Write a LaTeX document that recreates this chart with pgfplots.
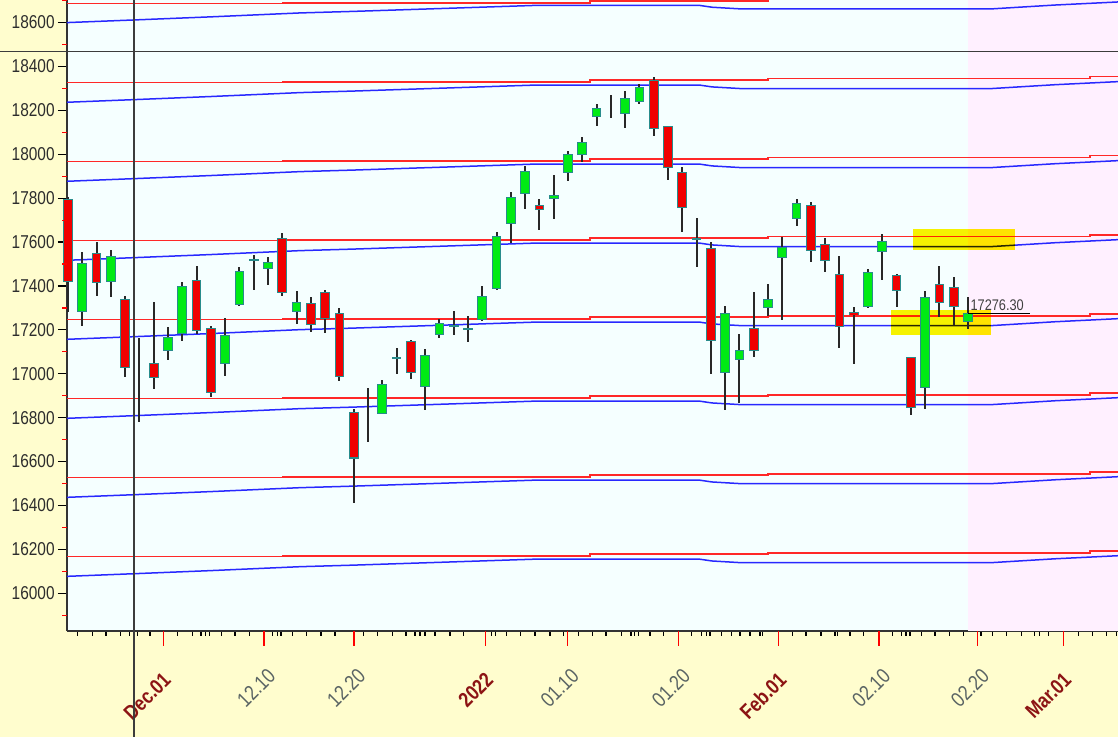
\documentclass[border=0pt]{standalone}
\usepackage{fontspec}
\setmainfont{Liberation Sans}
\newfontfamily\tickfont[FakeStretch=0.83]{Liberation Sans}
\usepackage{pgfplots}
\usepackage{pgfplotstable}
\pgfplotsset{compat=1.18}
\definecolor{outerbg}{RGB}{255,253,206}
\definecolor{plotbg}{RGB}{245,255,255}
\definecolor{pinkbg}{RGB}{255,240,255}
\definecolor{lred}{RGB}{255,40,40}
\definecolor{lblue}{RGB}{40,40,255}
\definecolor{cgreen}{RGB}{0,235,20}
\definecolor{cred}{RGB}{240,0,0}
\definecolor{cedge}{RGB}{40,140,140}
\definecolor{wick}{RGB}{40,40,40}
\definecolor{ylab}{RGB}{45,45,45}
\definecolor{xgray}{RGB}{90,100,100}
\definecolor{xred}{RGB}{140,20,20}
\definecolor{cross}{RGB}{60,60,60}

% candles (index 0 = first candle), open high low close
\pgfplotstableread{
x o h l c
1 17282 17554 17216 17503
3 17417 17564 17352 17536
7 17104 17213 17064 17167
8 17183 17420 17149 17402
11 17044 17252 16988 17177
12 17315 17485 17309 17470
14 17476 17534 17405 17511
16 17283 17376 17226 17325
22 16819 16971 16819 16955
23 17067 17119 16999 17073
25 16938 17112 16833 17086
26 17178 17250 17161 17233
28 17201 17264 17146 17204
29 17245 17401 17239 17354
30 17387 17647 17383 17626
31 17681 17828 17594 17805
32 17820 17945 17749 17925
34 17798 17905 17705 17813
35 17913 18017 17879 18003
36 17998 18081 17964 18056
37 18170 18228 18129 18212
38 18257 18272 18164 18258
39 18185 18287 18120 18256
40 18236 18322 18229 18308
44 17614 17708 17486 17617
46 17002 17309 16837 17278
47 17062 17183 16867 17110
49 17301 17410 17264 17340
50 17529 17622 17245 17577
51 17706 17795 17675 17780
56 17303 17477 17302 17464
57 17554 17639 17427 17606
60 16933 17375 16839 17352
63 17236 17351 17206 17276
}\upc
\pgfplotstableread{
x o h l c
0 17796 17805 17280 17417
2 17550 17601 17354 17415
4 17339 17355 16986 17026
5 17056 17161 16782 17054
6 17051 17325 16931 16983
9 17425 17490 17181 17197
10 17209 17217 16892 16912
13 17524 17543 17380 17517
15 17619 17640 17356 17368
17 17324 17352 17192 17221
18 17373 17380 17185 17248
19 17276 17298 16966 16985
20 16824 16840 16410 16614
21 16773 16936 16688 16771
24 17150 17156 16974 17004
27 17220 17286 17177 17214
33 17769 17798 17656 17746
41 18337 18351 18085 18113
42 18129 18130 17885 17938
43 17921 17944 17648 17757
45 17575 17599 16998 17149
48 17208 17374 17077 17102
52 17768 17781 17511 17560
53 17590 17618 17463 17516
54 17456 17537 17119 17214
55 17280 17306 17044 17267
58 17451 17455 17303 17375
59 17076 17077 16810 16843
61 17408 17491 17258 17322
62 17397 17443 17221 17305
}\downc
\pgfplotstableread{
x r1 r2 r3 r4 r5 r6 r7 r8
-0.07 18687 18327 17967 17607 17247 16887 16527 16167
15.05 18691 18331 17971 17611 17251 16891 16531 16171
36.54 18700 18340 17980 17620 17260 16900 16540 16180
49.0 18705 18345 17985 17625 17265 16905 16545 16185
71.54 18714 18354 17994 17634 17274 16914 16554 16194
73.5 18714 18354 17994 17634 17274 16914 16554 16194
}\redlines
\pgfplotstableread{
x b1 b2 b3 b4 b5 b6 b7 b8
-0.07 18600 18237 17877 17517 17157 16797 16437 16077
4.62 18612 18249 17889 17529 17169 16809 16449 16089
9.94 18626 18263 17903 17543 17183 16823 16463 16103
16.24 18644 18281 17921 17561 17201 16841 16481 16121
19.95 18651 18288 17928 17568 17208 16848 16488 16128
26.53 18665 18302 17942 17582 17222 16862 16502 16142
32.55 18678 18315 17955 17595 17235 16875 16515 16155
44.24 18678 18315 17955 17595 17235 16875 16515 16155
45.08 18670 18307 17947 17587 17227 16867 16507 16147
47.18 18662 18299 17939 17579 17219 16859 16499 16139
64.54 18662 18299 17939 17579 17219 16859 16499 16139
69.09 18680 18317 17957 17597 17237 16877 16517 16157
73.5 18694 18331 17971 17611 17251 16891 16531 16171
}\bluelines

\pgfplotsset{candle/.style={draw=none, mark=none, forget plot,
  error bars/.cd, y dir=both, y explicit, error mark=none}}

\begin{document}
\begin{tikzpicture}
\fill[outerbg] (-33.5pt,-53pt) rectangle (525.5pt,315.5pt);
\useasboundingbox (-33.5pt,-53pt) rectangle (525.5pt,315.5pt);
\begin{axis}[
  at={(0,0)}, anchor=south west,
  scale only axis, width=525.5pt, height=315.5pt,
  xmin=-0.07, xmax=73.5, ymin=15828, ymax=18703,
  axis x line*=bottom, axis y line*=left,
  axis line style={draw=black!80, line width=1pt},
  axis background/.style={fill=plotbg},
  clip=false,
  tick align=outside,
  major tick length=4.5pt, minor tick length=2.5pt,
  tick style={black, line width=0.6pt},
  ytick={16000,16200,16400,16600,16800,17000,17200,17400,17600,17800,18000,18200,18400,18600},
  yticklabels={16000,16200,16400,16600,16800,17000,17200,17400,17600,17800,18000,18200,18400,18600},
  yticklabel style={font=\tickfont\fontsize{9.3}{11}\selectfont, color=ylab, inner sep=0pt, xshift=-1.5pt},
  xtick={6.66,13.72,20.02,29.24,34.95,42.75,49.75,56.77,63.68,69.70},
  xticklabels={{\color{xred}\bfseries Dec.01\kern2.8pt},12.10,12.20,{\color{xred}\bfseries 2022\kern2.8pt},01.10,01.20,{\color{xred}\bfseries Feb.01\kern2.8pt},02.10,02.20,{\color{xred}\bfseries Mar.01\kern2.8pt}},
  minor xtick={0.68,1.73,2.66,3.69,4.29,4.88,5.74,7.68,8.73,9.31,9.64,9.89,10.76,11.69,12.69,14.33,14.68,14.91,15.73,16.71,17.71,18.69,20.67,21.68,22.70,23.66,24.29,24.64,24.99,25.69,26.74,27.67,29.66,29.94,30.71,31.69,32.69,33.74,34.67,35.72,36.73,37.66,38.76,39.41,39.64,39.92,40.74,41.67,43.66,44.36,44.71,44.94,45.76,46.46,47.04,47.74,48.44,48.63,50.73,51.66,52.71,53.69,53.88,54.74,55.67,57.73,58.36,58.66,58.94,59.76,60.69,61.69,62.67,63.91,64.73,65.71,66.76,67.64,67.99,68.62,70.72,71.73,72.71,73.41},
  xticklabel style={font=\tickfont\fontsize{10.5}{12}\selectfont, color=xgray, inner sep=0pt, xshift=4pt, yshift=-16pt, rotate=45, anchor=east},
]
% pink future zone
\fill[pinkbg] (axis cs:63,15828) rectangle (axis cs:73.5,18703);
% red and blue lines
\pgfplotsinvokeforeach{r1,r2,r3,r4,r5,r6,r7,r8}{
  \addplot[const plot, lred, line width=0.9pt] table[x=x, y=#1] {\redlines};
}
\pgfplotsinvokeforeach{b1,b2,b3,b4,b5,b6,b7,b8}{
  \addplot[lblue, line width=0.75pt] table[x=x, y=#1] {\bluelines};
}
% yellow highlight zones
\fill[yellow, blend mode=multiply] (axis cs:59.15,17564) rectangle (axis cs:66.29,17660);
\fill[yellow, blend mode=multiply] (axis cs:57.61,17177) rectangle (axis cs:64.61,17291);
% wicks
\addplot[candle, error bar style={line width=1pt, draw=wick}]
  table[x=x, y expr={(\thisrow{h}+\thisrow{l})/2}, y error expr={(\thisrow{h}-\thisrow{l})/2}] {\upc};
\addplot[candle, error bar style={line width=1pt, draw=wick}]
  table[x=x, y expr={(\thisrow{h}+\thisrow{l})/2}, y error expr={(\thisrow{h}-\thisrow{l})/2}] {\downc};
% body outlines
\addplot[candle, error bar style={line width=4.85pt, draw=cedge}]
  table[x=x, y expr={(\thisrow{o}+\thisrow{c})/2}, y error expr={abs(\thisrow{c}-\thisrow{o})<2.5 ? 0 : max(abs(\thisrow{c}-\thisrow{o})/2,4.5)}] {\upc};
\addplot[candle, error bar style={line width=4.85pt, draw=cedge}]
  table[x=x, y expr={(\thisrow{o}+\thisrow{c})/2}, y error expr={abs(\thisrow{c}-\thisrow{o})<2.5 ? 0 : max(abs(\thisrow{c}-\thisrow{o})/2,4.5)}] {\downc};
% body fills
\addplot[candle, error bar style={line width=3.85pt, draw=cgreen}]
  table[x=x, y expr={(\thisrow{o}+\thisrow{c})/2}, y error expr={max(abs(\thisrow{c}-\thisrow{o})/2-4.6,0)}] {\upc};
\addplot[candle, error bar style={line width=3.85pt, draw=cred}]
  table[x=x, y expr={(\thisrow{o}+\thisrow{c})/2}, y error expr={max(abs(\thisrow{c}-\thisrow{o})/2-4.6,0)}] {\downc};
% last price
\draw[black, line width=0.5pt] (axis cs:63,17276.3) -- (axis cs:67.34,17276.3);
\node[anchor=south west, inner sep=0pt, text=black!75, font=\tickfont\fontsize{7.7}{9}\selectfont] at (axis cs:63.15,17286) {17276.30};
% y minor ticks (red)
\pgfplotsinvokeforeach{15900,16100,16300,16500,16700,16900,17100,17300,17500,17700,17900,18100,18300,18500,18700}{
  \draw[red, line width=0.6pt] (axis cs:-0.07,#1) -- ++(-2.5pt,0pt);
}
% x labelled ticks (red)
\pgfplotsinvokeforeach{6.66,13.72,20.02,29.24,34.95,42.75,49.75,56.77,63.68,69.70}{
  \draw[red, line width=0.6pt] (axis cs:#1,15828) -- ++(0pt,-7.5pt);
}
% crosshair
\draw[cross, line width=0.75pt] (axis cs:4.62,15345) -- (axis cs:4.62,18703);
\draw[cross, line width=0.7pt] (axis cs:-4.76,18469) -- (axis cs:73.5,18469);
\end{axis}
\end{tikzpicture}
\end{document}
